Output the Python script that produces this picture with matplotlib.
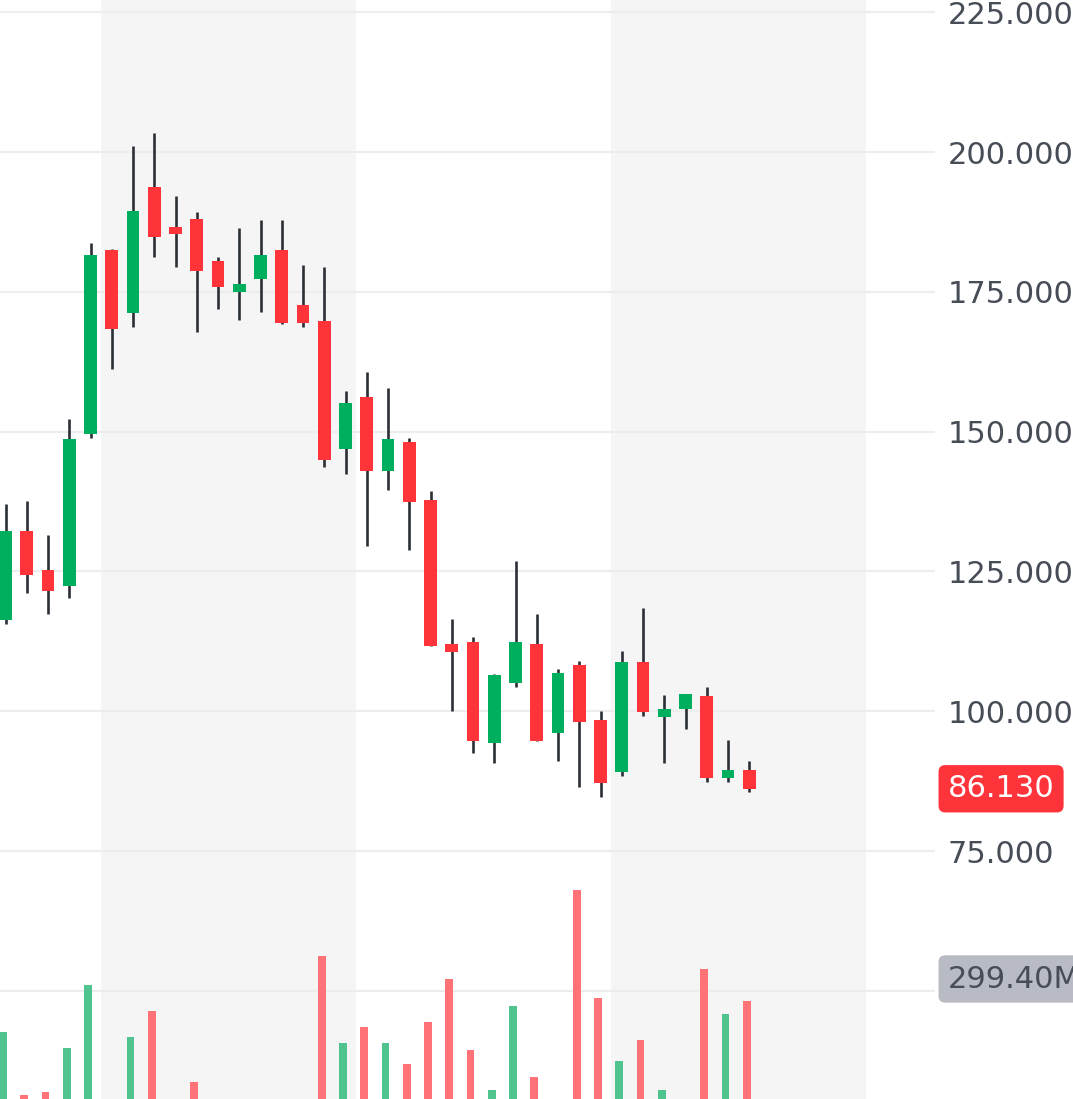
import matplotlib
matplotlib.use("Agg")
import matplotlib.pyplot as plt

# ---------------- data ----------------
opens = [116.31, 132.23, 125.20, 122.39, 149.66, 182.49, 171.27, 193.70, 186.65, 188.08,
         180.57, 174.97, 177.35, 182.49, 172.59, 169.79, 146.84, 156.14, 143.01, 148.14,
         137.82, 112.01, 112.43, 94.25, 105.04, 112.01, 96.10, 108.26, 98.42, 89.07,
         108.74, 98.96, 100.33, 102.66, 88.10, 89.48]
highs = [137.11, 137.59, 131.51, 152.20, 183.68, 182.66, 201.09, 203.36, 192.09, 189.23,
         181.29, 186.47, 187.85, 187.85, 179.86, 179.44, 157.32, 160.61, 157.75, 148.81,
         139.43, 116.43, 113.21, 106.65, 126.81, 117.38, 107.49, 108.92, 100.03, 110.82,
         118.40, 102.84, 103.07, 104.27, 94.84, 91.09]
lows = [115.59, 121.19, 117.43, 120.30, 148.95, 161.15, 168.66, 181.29, 179.44, 167.76,
        171.93, 170.02, 171.45, 169.30, 168.66, 143.73, 142.38, 129.60, 139.56, 128.77,
        111.66, 100.08, 92.57, 90.68, 104.32, 94.72, 91.14, 86.49, 84.59, 88.40,
        99.14, 90.68, 96.81, 87.39, 87.39, 85.49]
closes = [132.23, 124.30, 121.44, 148.63, 181.54, 168.41, 189.51, 184.86, 185.35, 178.78,
          175.92, 176.35, 181.54, 169.37, 169.37, 144.92, 155.21, 143.01, 148.63, 137.45,
          111.66, 110.64, 94.72, 106.42, 112.43, 94.72, 106.88, 98.01, 87.21, 108.74,
          99.91, 100.33, 103.07, 88.10, 89.48, 86.13]
volumes_m = [214.5, 41.1, 49.3, 170.7, 343.2, 31.5, 199.1, 271.2, 20.0, 77.5,
             18.0, 15.0, 22.0, 28.0, 12.0, 422.7, 184.4, 228.2, 184.4, 126.8,
             241.9, 358.0, 163.5, 54.8, 284.9, 91.2, 25.0, 601.8, 307.6, 135.0,
             191.8, 54.8, 20.0, 386.2, 263.8, 299.4]
price_ticks = [50, 75, 100, 125, 150, 175, 200, 225]
hidden_tick_labels = [50]
shaded_ranges = [(4.5, 16.5), (28.5, 40.5)]
last_price_text = "86.130"
last_volume_text = "299.40M"

# ---------------- style ----------------
W, H = 1073, 1099
UP = "#00AF5E"
DOWN = "#FF333A"
UP_VOL = "#4FC48F"
DOWN_VOL = "#FF7278"
WICK = "#2B2F36"
TEXT = "#474D57"
GRID = "#EDEDED"
BAND = "#F5F5F5"
FS = 22.0

plt.rcParams["font.family"] = ["DejaVu Sans"]

fig = plt.figure(figsize=(W / 100, H / 100), dpi=100)
fig.patch.set_facecolor("white")
plot_right_px = 935
ax = fig.add_axes([0, 0, plot_right_px / W, 1])

n = len(opens)
xs = list(range(n))

# x mapping: bar spacing ~21.25 px, first bar centre ~5.5 px
spacing_px = 21.25
first_px = 5.5
ax.set_xlim(-first_px / spacing_px, (plot_right_px - first_px) / spacing_px)

# y mapping: 225 at 12.3 px from top, 75 at 851 px
px_per_unit = (851 - 12.3) / 150.0
y_top = 225 + 12.3 / px_per_unit
y_bot = 225 - (H - 12.3) / px_per_unit
ax.set_ylim(y_bot, y_top)

# shaded bands
for a, b in shaded_ranges:
    ax.axvspan(a, b, color=BAND, zorder=0, lw=0)

# grid
ax.set_axisbelow(True)
ax.yaxis.grid(True, color=GRID, lw=1.6)
ax.xaxis.grid(False)

# candles
colors = [UP if c >= o else DOWN for o, c in zip(opens, closes)]
ax.vlines(xs, lows, highs, color=WICK, lw=1.9, zorder=2)
heights = [c - o for o, c in zip(opens, closes)]
ax.bar(xs, heights, bottom=opens, width=0.61, color=colors, zorder=3, lw=0)

# volume overlay
vax = ax.twinx()
vax.set_zorder(ax.get_zorder() + 1)
vax.patch.set_visible(False)
vol_base_px = 1110.0
last_vol_top_px = 1000.7
k = volumes_m[-1] / (vol_base_px - last_vol_top_px)
vax.set_ylim(k * (vol_base_px - H), k * vol_base_px)
vcolors = [UP_VOL if c >= o else DOWN_VOL for o, c in zip(opens, closes)]
vax.bar([x - 0.12 for x in xs], volumes_m, width=0.36, color=vcolors, lw=0, zorder=2)
vax.set_yticks([])
vax.tick_params(axis="both", length=0, labelleft=False, labelright=False)
for s in vax.spines.values():
    s.set_visible(False)

# axis styling (after twinx, which moves ticks to the left)
for s in ax.spines.values():
    s.set_visible(False)
ax.set_xticks([])
ax.yaxis.tick_right()
ax.set_yticks(price_ticks)
ax.set_yticklabels(["" if t in hidden_tick_labels else f"{t:.3f}" for t in price_ticks])
ax.tick_params(axis="y", which="both", length=0, pad=9.1, labelsize=FS, labelcolor=TEXT,
               left=False, labelleft=False, right=False, labelright=True)

# last value labels
pad_px = 12.7
ax.annotate(last_price_text, xy=(1.0, closes[-1]), xycoords=("axes fraction", "data"),
            xytext=(pad_px, 0), textcoords="offset pixels",
            ha="left", va="center", fontsize=FS, color="white",
            bbox=dict(boxstyle="round,pad=0.3,rounding_size=0.22", fc=DOWN, ec="none"),
            annotation_clip=False, zorder=10)
vax.annotate(last_volume_text, xy=(1.0, volumes_m[-1]), xycoords=("axes fraction", "data"),
             xytext=(pad_px, 21.7), textcoords="offset pixels",
             ha="left", va="center", fontsize=FS, color=TEXT,
             bbox=dict(boxstyle="round,pad=0.3,rounding_size=0.22", fc="#B8BBC3", ec="none"),
             annotation_clip=False, zorder=10)

fig.savefig("out.png", dpi=100, facecolor="white")
